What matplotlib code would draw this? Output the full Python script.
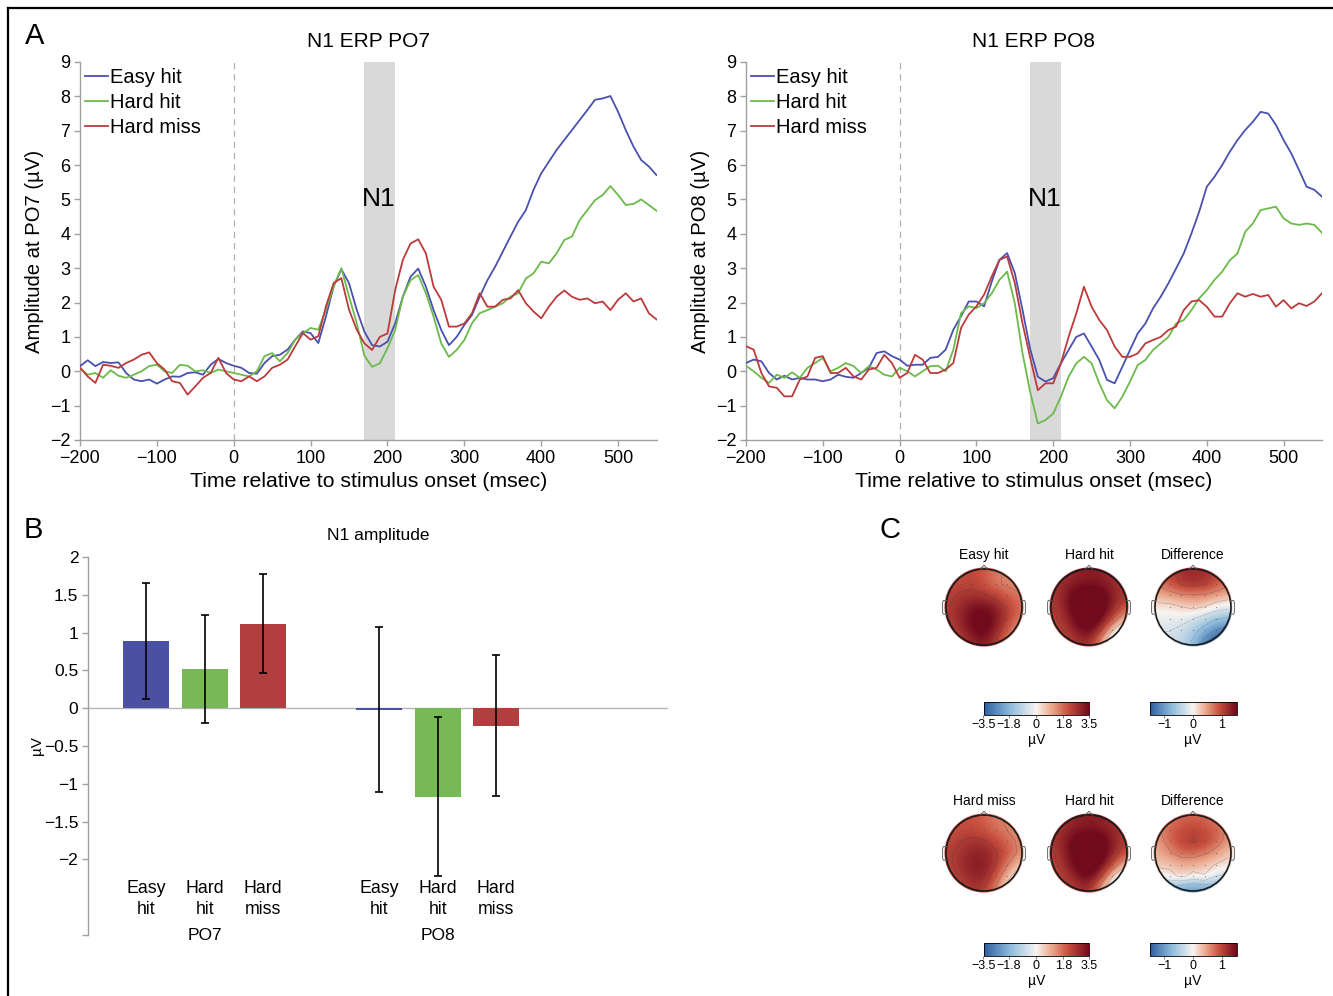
import numpy as np
import matplotlib
matplotlib.use('Agg')
import matplotlib.pyplot as plt
from matplotlib.patches import Circle
from matplotlib.lines import Line2D
from matplotlib.cm import ScalarMappable
from matplotlib.colors import Normalize, LinearSegmentedColormap

plt.rcParams['font.family'] = ['Liberation Sans', 'DejaVu Sans']

# ---------------- data ----------------
time_ms = np.arange(-200, 551, 10)

po7_easy_hit = [0.15, 0.32, 0.15, 0.27, 0.24, 0.26, -0.05, -0.24, -0.29, -0.24,
                -0.36, -0.24, -0.15, -0.16, -0.05, -0.03, -0.10, 0.19, 0.36, 0.24,
                0.16, 0.10, -0.05, -0.07, 0.24, 0.44, 0.48, 0.63, 0.92, 1.16,
                1.11, 0.82, 1.60, 2.47, 2.97, 2.56, 1.79, 1.15, 0.76, 0.72,
                0.86, 1.39, 2.17, 2.75, 2.99, 2.46, 1.78, 1.20, 0.76, 1.00,
                1.35, 1.64, 2.17, 2.65, 3.04, 3.48, 3.92, 4.35, 4.69, 5.28,
                5.76, 6.10, 6.44, 6.73, 7.02, 7.31, 7.60, 7.90, 7.94, 8.01,
                7.55, 7.02, 6.54, 6.15, 5.96, 5.71]
po7_hard_hit = [0.10, -0.10, -0.05, -0.19, 0.03, -0.13, -0.19, -0.10, 0.00, 0.15,
                0.19, 0.00, -0.05, 0.19, 0.16, 0.00, 0.03, -0.05, 0.05, 0.00,
                -0.05, -0.10, -0.15, 0.00, 0.44, 0.53, 0.29, 0.53, 0.92, 1.11,
                1.26, 1.21, 1.79, 2.47, 3.00, 2.18, 1.40, 0.45, 0.13, 0.23,
                0.67, 1.20, 2.17, 2.65, 2.80, 2.27, 1.59, 0.81, 0.42, 0.62,
                0.91, 1.40, 1.69, 1.78, 1.88, 1.98, 2.17, 2.27, 2.70, 2.85,
                3.19, 3.14, 3.43, 3.82, 3.92, 4.40, 4.69, 4.98, 5.13, 5.39,
                5.13, 4.84, 4.87, 5.00, 4.84, 4.67]
po7_hard_miss = [0.10, -0.15, -0.34, 0.19, 0.16, 0.10, 0.24, 0.34, 0.48, 0.55,
                 0.24, 0.05, -0.29, -0.34, -0.68, -0.44, -0.19, -0.05, 0.39, -0.05,
                 -0.24, -0.29, -0.15, -0.29, -0.15, 0.10, 0.19, 0.34, 0.73, 1.11,
                 0.92, 1.02, 1.89, 2.57, 2.71, 1.79, 1.21, 0.81, 0.62, 1.00,
                 1.10, 2.36, 3.24, 3.72, 3.84, 3.43, 2.46, 2.08, 1.30, 1.30,
                 1.39, 1.69, 2.27, 1.88, 1.88, 2.08, 2.12, 2.36, 1.98, 1.74,
                 1.54, 1.88, 2.17, 2.35, 2.17, 2.08, 2.12, 1.98, 2.03, 1.78,
                 2.08, 2.27, 2.03, 2.12, 1.69, 1.51]

po8_easy_hit = [0.24, 0.34, 0.29, -0.05, -0.24, -0.13, -0.24, -0.19, -0.24, -0.24,
                -0.29, -0.24, -0.10, -0.16, -0.19, -0.05, 0.10, 0.53, 0.58, 0.44,
                0.34, 0.16, 0.19, 0.19, 0.39, 0.42, 0.63, 1.21, 1.60, 2.03,
                2.03, 1.89, 2.61, 3.24, 3.44, 2.86, 1.79, 0.65, -0.16, -0.30,
                -0.20, 0.23, 0.62, 1.00, 1.10, 0.72, 0.33, -0.25, -0.35, 0.13,
                0.62, 1.10, 1.39, 1.83, 2.17, 2.56, 2.99, 3.43, 4.01, 4.64,
                5.37, 5.66, 6.00, 6.39, 6.73, 7.02, 7.26, 7.55, 7.50, 7.17,
                6.73, 6.34, 5.86, 5.37, 5.28, 5.08]
po8_hard_hit = [0.16, 0.00, -0.19, -0.34, -0.10, -0.19, -0.03, -0.19, 0.10, 0.24,
                0.39, 0.00, 0.10, 0.24, 0.15, -0.05, 0.15, 0.05, -0.10, -0.15,
                0.10, 0.00, -0.15, 0.00, 0.15, 0.16, 0.00, 0.63, 1.69, 1.89,
                1.84, 1.98, 2.27, 2.66, 2.90, 1.98, 0.53, -0.60, -1.52, -1.42,
                -1.23, -0.74, -0.16, 0.23, 0.42, 0.23, -0.35, -0.84, -1.08, -0.74,
                -0.30, 0.18, 0.33, 0.62, 0.81, 1.00, 1.39, 1.49, 1.78, 2.12,
                2.36, 2.66, 2.90, 3.23, 3.43, 4.06, 4.30, 4.69, 4.74, 4.79,
                4.45, 4.30, 4.26, 4.30, 4.26, 4.03]
po8_hard_miss = [0.73, 0.63, -0.05, -0.44, -0.48, -0.73, -0.73, -0.24, -0.15, 0.39,
                 0.44, -0.05, -0.05, 0.10, -0.15, -0.24, 0.05, 0.10, 0.48, 0.24,
                 -0.19, -0.05, 0.48, 0.34, -0.05, -0.05, 0.05, 0.24, 1.26, 1.65,
                 1.89, 2.23, 2.76, 3.24, 3.34, 2.57, 1.40, 0.40, -0.55, -0.35,
                 -0.35, 0.23, 1.00, 1.68, 2.46, 1.88, 1.49, 1.20, 0.72, 0.42,
                 0.42, 0.52, 0.81, 0.91, 1.00, 1.20, 1.30, 1.78, 2.03, 2.07,
                 1.88, 1.59, 1.59, 1.98, 2.27, 2.17, 2.25, 2.17, 2.22, 1.88,
                 2.07, 1.83, 1.98, 1.90, 2.03, 2.27]

condition_labels = ['Easy hit', 'Hard hit', 'Hard miss']
n1_window = [170, 210]

# N1 amplitude bars
bar_positions = [1, 2, 3, 5, 6, 7]
bar_labels = ['Easy\nhit', 'Hard\nhit', 'Hard\nmiss', 'Easy\nhit', 'Hard\nhit', 'Hard\nmiss']
bar_means = [0.89, 0.52, 1.12, -0.02, -1.17, -0.23]
bar_errors = [0.77, 0.71, 0.65, 1.09, 1.05, 0.93]
group_labels = ['PO7', 'PO8']
group_positions = [2, 6]

# topographic maps (rows: front -> back, columns: left -> right), in microvolts
topo_easy_hit = np.array([
    [2.0, 2.2, 2.3, 2.0, 1.6, 1.4, 1.3],
    [2.2, 2.3, 2.3, 2.0, 1.6, 1.4, 1.3],
    [2.4, 2.6, 2.7, 2.6, 2.3, 1.9, 1.6],
    [2.5, 2.9, 3.3, 3.4, 3.0, 2.4, 1.8],
    [2.5, 3.0, 3.6, 3.8, 3.3, 2.4, 1.6],
    [2.3, 2.8, 3.5, 3.8, 3.0, 2.0, 1.2],
    [2.0, 2.4, 3.0, 3.2, 2.5, 1.5, 0.8]])
topo_hard_hit = np.array([
    [2.6, 2.8, 3.0, 3.1, 3.0, 2.8, 2.6],
    [2.6, 2.9, 3.2, 3.3, 3.2, 2.9, 2.6],
    [2.6, 3.2, 3.9, 4.0, 3.9, 3.1, 2.5],
    [2.5, 3.1, 4.0, 4.2, 4.0, 3.0, 2.2],
    [2.4, 2.9, 3.8, 4.2, 3.6, 2.3, 0.9],
    [2.2, 2.6, 3.2, 3.7, 2.6, 0.6, -0.6],
    [2.0, 2.3, 2.7, 2.8, 1.2, -0.6, -1.5]])
topo_diff_easy = np.array([
    [0.8, 1.0, 1.2, 1.2, 1.2, 1.0, 0.8],
    [0.7, 0.9, 1.1, 1.2, 1.1, 0.9, 0.7],
    [0.4, 0.5, 0.6, 0.6, 0.6, 0.5, 0.4],
    [0.1, 0.1, 0.2, 0.3, 0.2, 0.0, -0.1],
    [-0.1, -0.1, -0.1, -0.2, -0.4, -0.6, -0.7],
    [-0.2, -0.2, -0.3, -0.5, -0.8, -1.1, -1.2],
    [-0.3, -0.3, -0.4, -0.7, -1.2, -1.5, -1.5]])
topo_hard_miss = np.array([
    [2.0, 2.1, 2.1, 1.9, 1.6, 1.4, 1.3],
    [2.1, 2.2, 2.2, 2.0, 1.7, 1.5, 1.3],
    [2.3, 2.5, 2.7, 2.6, 2.2, 1.8, 1.4],
    [2.4, 2.7, 3.0, 3.0, 2.6, 2.0, 1.4],
    [2.4, 2.8, 3.1, 3.1, 2.6, 1.6, 0.7],
    [2.2, 2.6, 3.0, 3.0, 2.1, 0.8, 0.0],
    [2.0, 2.3, 2.7, 2.5, 1.5, 0.2, -0.4]])
topo_diff_miss = np.array([
    [0.6, 0.7, 0.8, 0.8, 0.8, 0.7, 0.6],
    [0.6, 0.8, 0.9, 1.0, 0.9, 0.8, 0.6],
    [0.5, 0.8, 1.0, 1.1, 1.0, 0.8, 0.5],
    [0.4, 0.6, 0.8, 0.8, 0.7, 0.5, 0.3],
    [0.3, 0.3, 0.4, 0.4, 0.3, 0.2, 0.1],
    [0.0, 0.1, 0.3, 0.1, 0.2, -0.2, -0.3],
    [-0.6, -0.7, -0.9, -1.0, -0.9, -0.8, -0.6]])
topo_titles_row1 = ['Easy hit', 'Hard hit', 'Difference']
topo_titles_row2 = ['Hard miss', 'Hard hit', 'Difference']
cond_range = (-3.5, 3.5)
cond_ticks = [-3.5, -1.8, 0, 1.8, 3.5]
cond_ticklabels = ['\u22123.5', '\u22121.8', '0', '1.8', '3.5']
diff_range = (-1.5, 1.5)
diff_ticks = [-1, 0, 1]
diff_ticklabels = ['\u22121', '0', '1']

# ---------------- style ----------------
line_colors = ['#4a50b0', '#6cba4a', '#bb3b3b']
bar_colors = ['#4b50a2', '#77b955', '#b13f3f', '#4b50a2', '#77b955', '#b13f3f']
spine_gray = '#a0a0a0'
cmap = LinearSegmentedColormap.from_list('topo', [
    (0.00, '#2c5ca0'), (0.25, '#8cbadb'), (0.50, '#f8f4f1'),
    (0.65, '#eaa68b'), (0.80, '#c8503f'), (1.00, '#710a1c')])

W, H = 1333, 996
fig = plt.figure(figsize=(W / 100, H / 100), dpi=100)


def fx(px):
    return px / W


def fy(py):
    return 1 - py / H


def style_axes(ax, labelsize=13):
    for s in ['top', 'right']:
        ax.spines[s].set_visible(False)
    for s in ['left', 'bottom']:
        ax.spines[s].set_color(spine_gray)
        ax.spines[s].set_linewidth(1.0)
    ax.tick_params(color=spine_gray, length=4, width=1.0, labelsize=labelsize, pad=3)


def erp_panel(left_px, right_px, title, ylabel, series):
    ax = fig.add_axes([fx(left_px), fy(440), (right_px - left_px) / W, 378 / H])
    ax.axvspan(n1_window[0], n1_window[1], color='#d9d9d9', lw=0, zorder=0)
    ax.axvline(0, color='#b0b0b0', lw=0.9, ls=(0, (5, 4)), zorder=1)
    for vals, col, lab in zip(series, line_colors, condition_labels):
        ax.plot(time_ms, vals, color=col, lw=1.3, label=lab, zorder=3,
                solid_joinstyle='round')
    ax.set_xlim(-200, 550)
    ax.set_ylim(-2, 9)
    ax.set_xticks(range(-200, 501, 100))
    ax.set_yticks(range(-2, 10))
    style_axes(ax)
    ax.text(189, 5.0, 'N1', ha='center', va='center', fontsize=19, zorder=4)
    ax.set_title(title, fontsize=15, pad=11)
    ax.set_xlabel('Time relative to stimulus onset (msec)', fontsize=15.3, labelpad=4)
    ax.set_ylabel(ylabel, fontsize=14.6, labelpad=4)
    ax.legend(loc='upper left', bbox_to_anchor=(0.008, 0.985), frameon=False,
              fontsize=14.5, handlelength=1.15, handletextpad=0.12,
              labelspacing=0.3, borderaxespad=0, borderpad=0)
    return ax


erp_panel(80, 656.5, 'N1 ERP PO7', 'Amplitude at PO7 (\u00b5V)',
          [po7_easy_hit, po7_hard_hit, po7_hard_miss])
erp_panel(746, 1322, 'N1 ERP PO8', 'Amplitude at PO8 (\u00b5V)',
          [po8_easy_hit, po8_hard_hit, po8_hard_miss])

# ---------------- panel B ----------------
axb = fig.add_axes([fx(88), fy(935), (668 - 88) / W, (935 - 557) / H])
axb.axhline(0, color='#b5b5b5', lw=1.0, zorder=1)
axb.bar(bar_positions, bar_means, width=0.79, color=bar_colors, edgecolor='none', zorder=2)
axb.errorbar(bar_positions, bar_means, yerr=bar_errors, fmt='none', ecolor='black',
             elinewidth=1.2, capsize=3, capthick=1.2, zorder=3)
axb.set_xlim(0, 9.95)
axb.set_ylim(-3, 2)
axb.set_yticks([-3, -2, -1.5, -1, -0.5, 0, 0.5, 1, 1.5, 2])
axb.set_yticklabels(['', '\u22122', '\u22121.5', '\u22121', '\u22120.5', '0', '0.5', '1', '1.5', '2'])
axb.set_xticks([])
style_axes(axb, labelsize=12.5)
axb.spines['bottom'].set_visible(False)
axb.set_ylabel('\u00b5V', fontsize=11, labelpad=0)
axb.set_title('N1 amplitude', fontsize=12.5, pad=12)
for p, lab in zip(bar_positions, bar_labels):
    axb.text(p, -2.27, lab, ha='center', va='top', fontsize=12.8, linespacing=1.3)
for p, lab in zip(group_positions, group_labels):
    axb.text(p, -3.0, lab, ha='center', va='center', fontsize=12.5)


# ---------------- panel C ----------------
def topo(cx, cy, grid, vrange, title):
    s = 100
    ax = fig.add_axes([fx(cx - s / 2), fy(cy + s / 2), s / W, s / H])
    lim = 1.316
    ax.set_xlim(-lim, lim)
    ax.set_ylim(-lim, lim)
    ax.set_aspect('equal')
    ax.axis('off')
    vmin, vmax = vrange
    ext = 1.06
    im = ax.imshow(grid, cmap=cmap, vmin=vmin, vmax=vmax, origin='upper',
                   extent=(-ext, ext, -ext, ext), interpolation='bicubic', zorder=1)
    im.set_clip_path(Circle((0, 0), 1.04, transform=ax.transData))
    n = grid.shape[0]
    half = ext - ext / n
    g = np.linspace(-half, half, n)
    X, Y = np.meshgrid(g, g[::-1])
    cl = ax.contour(X, Y, grid, levels=np.linspace(vmin, vmax, 8)[1:-1], colors='#333333',
                    linewidths=0.4, alpha=0.35, zorder=2)
    cl.set_clip_path(Circle((0, 0), 0.99, transform=ax.transData))
    inside = (X ** 2 + Y ** 2) < 0.75
    ax.scatter(X[inside], Y[inside], s=0.35, color='#444444', alpha=0.7, zorder=4,
               linewidths=0)
    ax.add_patch(Circle((0, 0), 1.0, fill=False, ec='#1a1a1a', lw=1.2, zorder=5))
    ax.plot([-0.1, 0.0, 0.1], [0.995, 1.1, 0.995], color='#555555', lw=0.6, zorder=5)
    for sgn in (-1, 1):
        ax.plot([sgn * 0.99, sgn * 1.07, sgn * 1.09, sgn * 1.09, sgn * 1.07, sgn * 0.99],
                [0.17, 0.17, 0.12, -0.14, -0.19, -0.19], color='#666666', lw=0.7, zorder=5)
    fig.text(fx(cx), fy(cy - 45), title, ha='center', va='bottom', fontsize=10)


topo_centers_x = [984, 1089, 1193]
for cx, grid, rng, t in zip(topo_centers_x, [topo_easy_hit, topo_hard_hit, topo_diff_easy],
                            [cond_range, cond_range, diff_range], topo_titles_row1):
    topo(cx, 607, grid, rng, t)
for cx, grid, rng, t in zip(topo_centers_x, [topo_hard_miss, topo_hard_hit, topo_diff_miss],
                            [cond_range, cond_range, diff_range], topo_titles_row2):
    topo(cx, 853, grid, rng, t)


def cbar(x0, x1, ytop, rng, ticks, ticklabels):
    cax = fig.add_axes([fx(x0), fy(ytop + 13), (x1 - x0) / W, 13 / H])
    sm = ScalarMappable(norm=Normalize(*rng), cmap=cmap)
    cb = fig.colorbar(sm, cax=cax, orientation='horizontal')
    cb.set_ticks(ticks)
    cb.set_ticklabels(ticklabels)
    cb.ax.tick_params(labelsize=9, length=2, width=0.6, pad=1, color='#666666')
    cb.outline.set_linewidth(0.6)
    cb.set_label('\u00b5V', fontsize=10, labelpad=1)


cbar(983.5, 1089, 702, cond_range, cond_ticks, cond_ticklabels)
cbar(1149.5, 1236.5, 702, diff_range, diff_ticks, diff_ticklabels)
cbar(983.5, 1089, 943, cond_range, cond_ticks, cond_ticklabels)
cbar(1149.5, 1236.5, 943, diff_range, diff_ticks, diff_ticklabels)

# ---------------- panel letters & frame ----------------
fig.text(fx(35), fy(36), 'A', ha='center', va='center', fontsize=21)
fig.text(fx(33), fy(530), 'B', ha='center', va='center', fontsize=21)
fig.text(fx(890), fy(530), 'C', ha='center', va='center', fontsize=21)
fig.add_artist(Line2D([fx(8), 1], [fy(8), fy(8)], color='black', lw=1.6))
fig.add_artist(Line2D([fx(8), fx(8)], [fy(8), 0], color='black', lw=1.6))

fig.savefig('out.png', dpi=100)
